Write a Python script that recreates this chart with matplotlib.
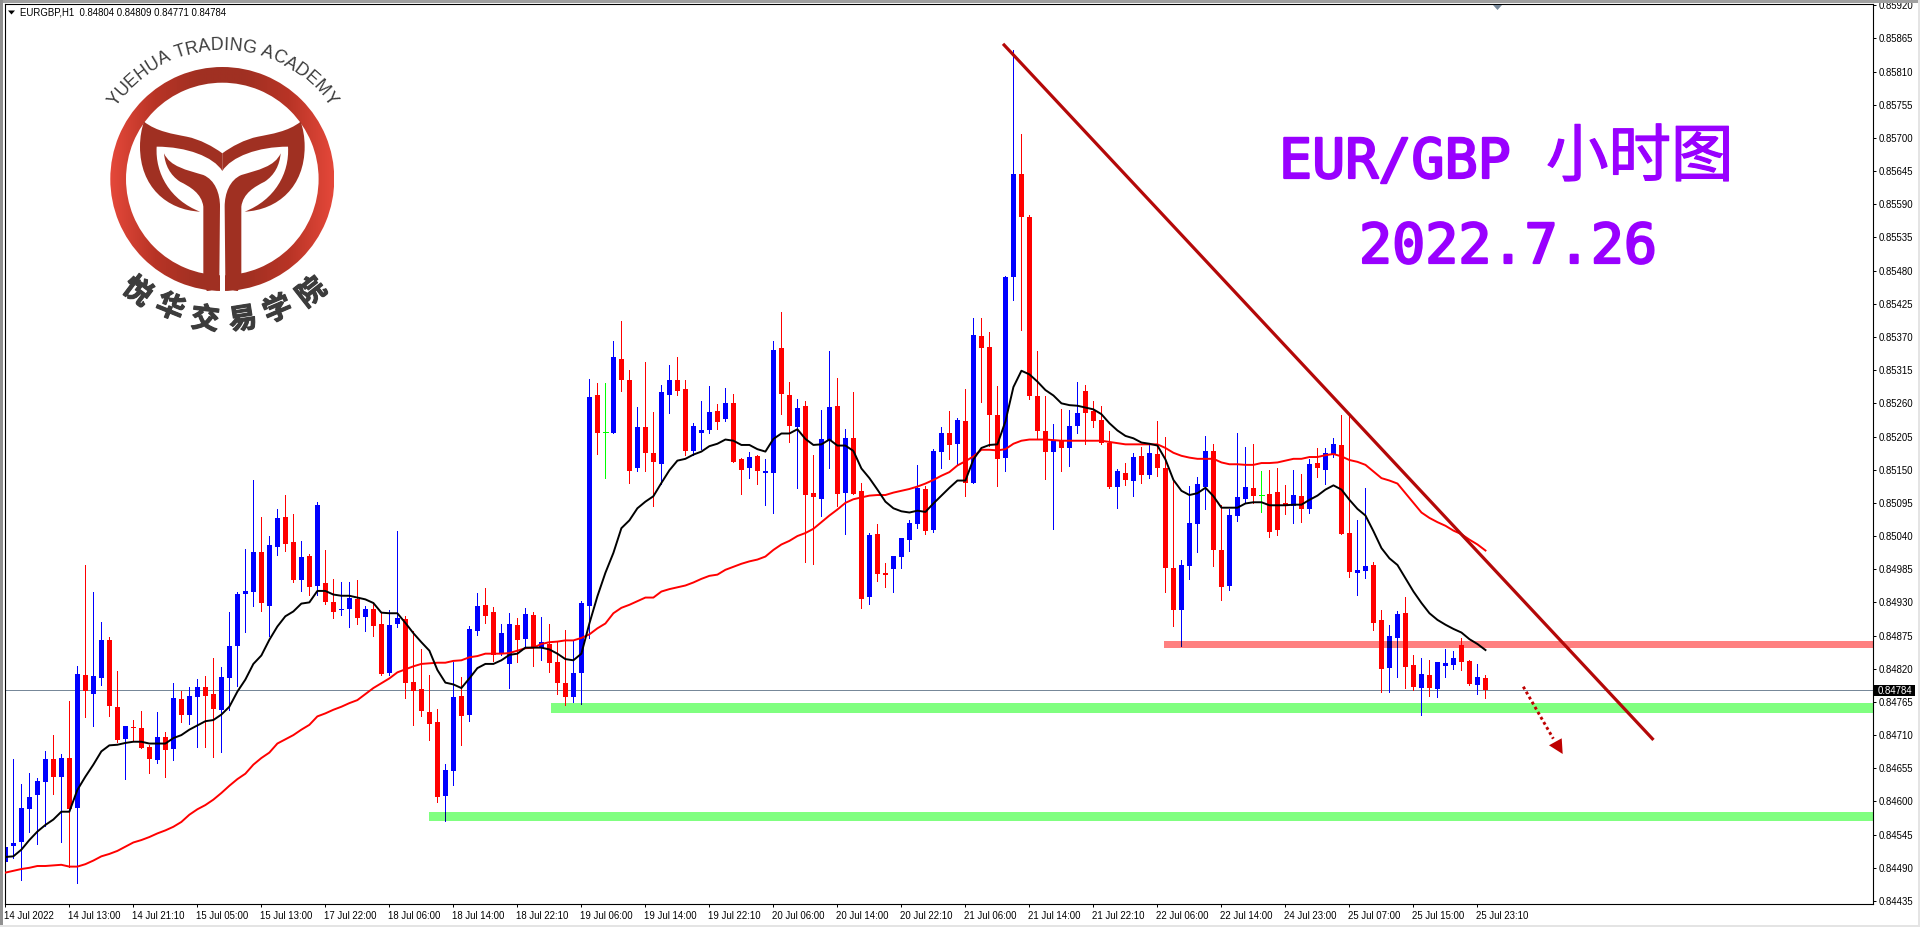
import numpy as np
import matplotlib
matplotlib.use("Agg")
import matplotlib.pyplot as plt
import matplotlib.patheffects as pe
from matplotlib.colors import LinearSegmentedColormap
from matplotlib.patches import PathPatch, Polygon, Rectangle, Wedge
from matplotlib.path import Path
from matplotlib.transforms import ScaledTranslation

# prices in points (1e-5)
OPEN = [
    84500, 84526, 84532, 84587, 84611, 84632, 84671, 84641, 84672, 84589,
    84810, 84778, 84805, 84868, 84757, 84704, 84724, 84722, 84691, 84669,
    84707, 84687, 84770, 84744, 84773, 84790, 84778, 84752, 84805, 84858,
    84944, 84948, 85014, 84924, 85022, 85072, 85030, 84967, 85007, 84957,
    84962, 84931, 84918, 84919, 84936, 84906, 84919, 84894, 84813, 84894,
    84903, 84798, 84787, 84749, 84732, 84609, 84651, 84775, 84744, 84883,
    84926, 84914, 84845, 84828, 84892, 84869, 84909, 84854, 84861, 84832,
    84796, 84773, 84813, 84924, 85273, 85212, 85211, 85334, 85299, 85153,
    85221, 85178, 85160, 85274, 85299, 85284, 85181, 85210, 85215, 85248,
    85234, 85261, 85168, 85152, 85173, 85145, 85145, 85352, 85274, 85221,
    85256, 85112, 85102, 85198, 85256, 85112, 85203, 85115, 84939, 85044,
    84979, 84986, 85006, 85034, 85060, 85118, 85050, 85180, 85210, 85193,
    85230, 85128, 85372, 85354, 85241, 85169, 85469, 85641, 85569, 85272,
    85214, 85180, 85199, 85186, 85222, 85280, 85248, 85233, 85194, 85122,
    85145, 85131, 85173, 85142, 85176, 85153, 84987, 84918, 84991, 85060,
    85122, 85181, 85017, 84958, 85074, 85102, 85120, 85108, 85110, 85113,
    85095, 85090, 85107, 85085, 85161, 85150, 85176, 85191, 85045, 84979,
    84982, 84992, 84900, 84822, 84871, 84913, 84827, 84788, 84810, 84787,
    84825, 84827, 84860, 84833, 84793, 84804,
]
HIGH = [
    84563, 84671, 84629, 84647, 84639, 84684, 84710, 84679, 84767, 84825,
    84992, 84948, 84898, 84873, 84817, 84725, 84735, 84750, 84694, 84749,
    84715, 84797, 84783, 84790, 84803, 84808, 84838, 84823, 84914, 84948,
    85019, 85133, 85072, 85040, 85085, 85108, 85077, 85032, 85011, 85097,
    85017, 84969, 84964, 84964, 84967, 84924, 84929, 84914, 84918, 85049,
    84908, 84883, 84853, 84810, 84754, 84662, 84831, 84807, 84891, 84946,
    84954, 84922, 84894, 84912, 84904, 84920, 84914, 84905, 84894, 84864,
    84884, 84867, 84932, 85301, 85293, 85294, 85364, 85397, 85316, 85254,
    85329, 85246, 85291, 85324, 85337, 85298, 85228, 85264, 85288, 85259,
    85286, 85276, 85170, 85180, 85175, 85168, 85364, 85412, 85296, 85268,
    85264, 85175, 85249, 85347, 85302, 85218, 85278, 85128, 85045, 85060,
    84996, 85007, 85037, 85067, 85157, 85123, 85185, 85220, 85248, 85236,
    85284, 85402, 85402, 85379, 85288, 85471, 85846, 85707, 85572, 85347,
    85272, 85226, 85251, 85249, 85296, 85291, 85264, 85256, 85214, 85151,
    85161, 85177, 85188, 85195, 85230, 85205, 85133, 85001, 85123, 85138,
    85206, 85193, 85092, 85085, 85210, 85188, 85193, 85148, 85150, 85153,
    85125, 85150, 85143, 85168, 85186, 85186, 85203, 85241, 85241, 85067,
    85120, 84997, 84918, 84893, 84916, 84939, 84843, 84838, 84835, 84832,
    84853, 84850, 84871, 84835, 84828, 84809,
]
LOW = [
    84472, 84506, 84470, 84549, 84530, 84560, 84613, 84533, 84492, 84465,
    84740, 84725, 84793, 84742, 84699, 84637, 84702, 84689, 84647, 84664,
    84641, 84669, 84732, 84729, 84691, 84691, 84674, 84682, 84752, 84792,
    84881, 84924, 84916, 84875, 85009, 85015, 84964, 84949, 84943, 84943,
    84928, 84904, 84909, 84889, 84894, 84883, 84875, 84810, 84810, 84889,
    84772, 84727, 84742, 84702, 84599, 84568, 84627, 84694, 84734, 84876,
    84896, 84833, 84843, 84788, 84831, 84854, 84824, 84834, 84814, 84778,
    84760, 84765, 84761, 84871, 85176, 85137, 85211, 85281, 85128, 85148,
    85148, 85090, 85127, 85244, 85274, 85175, 85175, 85185, 85211, 85218,
    85231, 85162, 85110, 85137, 85127, 85092, 85079, 85243, 85196, 85120,
    84997, 84994, 85074, 85153, 85090, 85044, 85110, 84921, 84928, 84966,
    84956, 84948, 84987, 85016, 85054, 85044, 85047, 85152, 85168, 85157,
    85107, 85128, 85263, 85190, 85123, 85148, 85431, 85381, 85268, 85203,
    85135, 85052, 85147, 85156, 85210, 85192, 85220, 85192, 85120, 85087,
    85124, 85107, 85128, 85137, 85139, 84948, 84891, 84858, 84969, 85014,
    85085, 84991, 84934, 84951, 85065, 85094, 85094, 85080, 85039, 85042,
    85077, 85062, 85064, 85079, 85138, 85127, 85171, 85044, 84972, 84943,
    84971, 84885, 84782, 84782, 84807, 84788, 84784, 84744, 84775, 84773,
    84807, 84820, 84818, 84793, 84778, 84771,
]
CLOSE = [
    84525, 84531, 84589, 84608, 84634, 84671, 84641, 84672, 84588, 84812,
    84783, 84808, 84868, 84759, 84702, 84725, 84721, 84689, 84671, 84707,
    84686, 84772, 84744, 84775, 84790, 84775, 84754, 84807, 84858, 84944,
    84949, 85014, 84929, 85025, 85070, 85027, 84967, 85006, 84956, 85092,
    84931, 84914, 84919, 84938, 84904, 84919, 84891, 84812, 84893, 84904,
    84797, 84783, 84750, 84729, 84608, 84652, 84773, 84742, 84886, 84924,
    84908, 84843, 84879, 84894, 84867, 84910, 84854, 84864, 84829, 84796,
    84773, 84813, 84929, 85271, 85210, 85212, 85336, 85299, 85148, 85221,
    85178, 85162, 85278, 85299, 85281, 85181, 85223, 85215, 85246, 85229,
    85261, 85163, 85150, 85171, 85147, 85148, 85349, 85276, 85223, 85253,
    85108, 85105, 85201, 85254, 85110, 85203, 85110, 84936, 85042, 84977,
    84976, 85007, 85036, 85062, 85120, 85049, 85181, 85211, 85191, 85233,
    85128, 85374, 85352, 85241, 85168, 85469, 85641, 85569, 85272, 85214,
    85180, 85199, 85186, 85222, 85244, 85244, 85230, 85194, 85122, 85147,
    85133, 85171, 85142, 85178, 85153, 84987, 84918, 84992, 85062, 85127,
    85181, 85017, 84956, 85075, 85104, 85122, 85107, 85108, 85047, 85050,
    85090, 85108, 85084, 85160, 85152, 85178, 85193, 85044, 84981, 84984,
    84991, 84896, 84820, 84875, 84911, 84823, 84790, 84812, 84788, 84832,
    84830, 84837, 84832, 84795, 84807, 84784,
]
MA_BLACK = [
    84508, 84509, 84520, 84536, 84550, 84561, 84570, 84583, 84583, 84619,
    84641, 84661, 84683, 84693, 84694, 84697, 84699, 84699, 84696, 84696,
    84696, 84705, 84710, 84719, 84726, 84733, 84735, 84744, 84757, 84782,
    84802, 84828, 84842, 84868, 84890, 84907, 84915, 84928, 84930, 84949,
    84949, 84943, 84941, 84941, 84938, 84935, 84929, 84913, 84912, 84912,
    84896, 84879, 84864, 84850, 84818, 84797, 84794, 84788, 84804, 84821,
    84828, 84828, 84834, 84843, 84845, 84855, 84855, 84855, 84852, 84845,
    84836, 84834, 84845, 84895, 84940, 84979, 85012, 85053, 85066, 85086,
    85097, 85106, 85128, 85149, 85165, 85168, 85175, 85180, 85189, 85193,
    85200, 85198, 85191, 85191, 85184, 85180, 85201, 85210, 85210, 85217,
    85201, 85191, 85192, 85200, 85190, 85190, 85181, 85152, 85136, 85117,
    85097, 85086, 85081, 85079, 85082, 85080, 85094, 85107, 85120, 85132,
    85132, 85167, 85186, 85191, 85192, 85230, 85287, 85314, 85308, 85296,
    85282, 85273, 85260, 85257, 85256, 85253, 85250, 85242, 85227, 85215,
    85206, 85202, 85195, 85193, 85190, 85167, 85133, 85115, 85108, 85111,
    85120, 85106, 85087, 85087, 85087, 85094, 85096, 85096, 85091, 85091,
    85091, 85092, 85092, 85100, 85107, 85117, 85124, 85117, 85100, 85085,
    85074, 85048, 85020, 85003, 84992, 84970, 84948, 84929, 84912, 84901,
    84893, 84886, 84880, 84869, 84861, 84851,
]
MA_RED = [
    84482, 84485, 84488, 84490, 84493, 84493, 84494, 84495, 84492, 84492,
    84496, 84502, 84509, 84513, 84518, 84525, 84532, 84536, 84541, 84547,
    84552, 84558, 84566, 84578, 84587, 84594, 84603, 84614, 84626, 84637,
    84646, 84661, 84672, 84681, 84696, 84703, 84710, 84719, 84727, 84741,
    84746, 84752, 84757, 84763, 84768, 84778, 84788, 84796, 84804, 84814,
    84819, 84824, 84828, 84829, 84830, 84830, 84833, 84834, 84839, 84841,
    84845, 84845, 84845, 84846, 84850, 84854, 84855, 84861, 84864, 84865,
    84867, 84867, 84871, 84877, 84887, 84895, 84912, 84921, 84926, 84932,
    84938, 84938, 84948, 84952, 84955, 84958, 84963, 84969, 84974, 84976,
    84984, 84989, 84994, 84998, 85001, 85006, 85017, 85026, 85032, 85040,
    85045, 85052, 85063, 85074, 85084, 85095, 85101, 85104, 85107, 85108,
    85108, 85112, 85115, 85118, 85122, 85127, 85133, 85140, 85146, 85157,
    85164, 85172, 85183, 85183, 85182, 85184, 85193, 85198, 85200, 85200,
    85200, 85199, 85198, 85198, 85198, 85198, 85198, 85198, 85196, 85194,
    85192, 85192, 85192, 85192, 85192, 85186, 85178, 85173, 85170, 85168,
    85168, 85168, 85162, 85159, 85159, 85158, 85158, 85161, 85161, 85162,
    85165, 85168, 85168, 85171, 85171, 85174, 85176, 85172, 85166, 85163,
    85158, 85147, 85136, 85132, 85127, 85111, 85095, 85079, 85070, 85063,
    85057, 85049, 85043, 85034, 85026, 85016,
]

TIME_LABELS = [
    "14 Jul 2022", "14 Jul 13:00", "14 Jul 21:10", "15 Jul 05:00",
    "15 Jul 13:00", "17 Jul 22:00", "18 Jul 06:00", "18 Jul 14:00",
    "18 Jul 22:10", "19 Jul 06:00", "19 Jul 14:00", "19 Jul 22:10",
    "20 Jul 06:00", "20 Jul 14:00", "20 Jul 22:10", "21 Jul 06:00",
    "21 Jul 14:00", "21 Jul 22:10", "22 Jul 06:00", "22 Jul 14:00",
    "24 Jul 23:00", "25 Jul 07:00", "25 Jul 15:00", "25 Jul 23:10",
]
LAST_PRICE = 84784

# zones: start bar, low, high, colour
ZONE_STARTS = [52.96, 68.2, 144.8]
ZONE_LOWS = [84568, 84747, 84854]
ZONE_HIGHS = [84583, 84763, 84866]
ZONE_COLORS = ["#80FF80", "#80FF80", "#FF8080"]

TREND_BARS = [124.7, 206.0]
TREND_PRICES = [85856, 84702]

BLUE = "#0000FF"
RED = "#FF0000"
LIME = "#00FF00"
PURPLE = "#9900FF"
LOGO_RED = "#A03022"
LOGO_GRAY = "#3C3C3C"
ARROW_RED = "#BE0000"
SLATE = "#778899"

ACADEMY_WIDTHS = {
    "Y": 0.667, "U": 0.722, "E": 0.667, "H": 0.722, "A": 0.667, " ": 0.278,
    "T": 0.611, "R": 0.722, "D": 0.722, "I": 0.278, "N": 0.722, "G": 0.778,
    "C": 0.722, "M": 0.833,
}
CN_CHARS = ["悦", "华", "交", "易", "学", "院"]
CN_X = [137, 170, 205, 243, 278, 312]
CN_Y = [292, 308, 320, 320, 310, 293]
CN_ANGLES = [-37, -22, -7, 9, 23, 38]


def draw_candles(ax, x, o, h, l, c):
    up = c > o
    down = c < o
    flat = c == o
    for mask, color in ((up, BLUE), (down, RED)):
        ax.vlines(x[mask], l[mask], h[mask], color=color, linewidth=0.72,
                  antialiased=False, zorder=2)
        ax.bar(x[mask], (c - o)[mask], bottom=o[mask], width=5 / 8, color=color,
               linewidth=0, antialiased=False, zorder=2)
    ax.vlines(x[flat], l[flat], h[flat], color=LIME, linewidth=0.72,
              antialiased=False, zorder=2)
    ax.hlines(c[flat], x[flat] - 0.31, x[flat] + 0.31, color=LIME, linewidth=0.72,
              antialiased=False, zorder=2)

    # the zones darken blue candles they lie over
    for start, low, high in zip(ZONE_STARTS, ZONE_LOWS, ZONE_HIGHS):
        clip = Rectangle((start, low / 1e5), 100, (high - low) / 1e5,
                         transform=ax.transData)
        wicks = ax.vlines(x[up], l[up], h[up], color="#000080", linewidth=0.72,
                          antialiased=False, zorder=2.1)
        wicks.set_clip_path(clip)
        bodies = ax.bar(x[up], (c - o)[up], bottom=o[up], width=5 / 8,
                        color="#000080", linewidth=0, antialiased=False, zorder=2.1)
        for body in bodies:
            body.set_clip_path(clip)


def draw_logo(ov):
    # zoomed reference coordinates, 3x
    def path(points, codes):
        return Path(np.array(points) / 3, codes)

    m, c4, ln, cl = Path.MOVETO, Path.CURVE4, Path.LINETO, Path.CLOSEPOLY
    fluke = [(432, 365), (470, 395), (520, 402), (560, 410), (600, 418), (640, 440),
             (667, 460), (667, 513), (640, 470), (560, 440), (470, 440), (465, 520),
             (510, 600), (600, 635), (500, 630), (420, 560), (420, 440), (420, 410),
             (425, 385), (432, 365), (432, 365)]
    fluke_codes = [m, c4, c4, c4, c4, c4, c4, ln, c4, c4, c4, c4, c4, c4, c4, c4, c4,
                   c4, c4, c4, cl]
    leaf = [(492, 460), (510, 500), (560, 510), (610, 525), (645, 540), (660, 580),
            (660, 620), (658, 840), (655, 860), (640, 873), (620, 873), (610, 822),
            (610, 620), (605, 580), (570, 560), (540, 545), (510, 525), (495, 495),
            (492, 460), (492, 460)]
    leaf_codes = [m, c4, c4, c4, c4, c4, c4, ln, c4, c4, c4, ln, ln, c4, c4, c4, c4,
                  c4, c4, cl]

    cx, cy = 222.3, 179.0
    ring = Wedge((cx, cy), 112, 0, 360, width=15.7, facecolor="none", edgecolor="none",
                 transform=ov.transData)
    ov.add_patch(ring)
    cmap = LinearSegmentedColormap.from_list(
        "ring", ["#E5483A", "#B83426", "#A03022", "#A03022", "#B83426", "#E5483A"]
    )
    image = ov.imshow(np.linspace(0, 1, 256).reshape(1, -1), cmap=cmap, aspect="auto",
                      extent=(cx - 112, cx + 112, cy + 112, cy - 112), zorder=3)
    image.set_clip_path(ring)
    ov.add_patch(Rectangle((220, 200), 4.8, 95, facecolor="white", edgecolor="none",
                           zorder=3.1))

    for points, codes in ((fluke, fluke_codes), (leaf, leaf_codes)):
        ov.add_patch(PathPatch(path(points, codes), facecolor=LOGO_RED,
                               edgecolor="none", zorder=3.2))
        mirrored = [(1334 - px, py) for px, py in points]
        ov.add_patch(PathPatch(path(mirrored, codes), facecolor=LOGO_RED,
                               edgecolor="none", zorder=3.2))

    academy = "YUEHUA TRADING ACADEMY"
    em = 17.8
    radius = 129
    total = sum(ACADEMY_WIDTHS[ch] for ch in academy) * em
    pos = -total / 2
    for ch in academy:
        width = ACADEMY_WIDTHS[ch] * em
        angle = (pos + width / 2) / radius
        ov.text(cx + radius * np.sin(angle), cy - radius * np.cos(angle), ch,
                rotation=-np.degrees(angle), rotation_mode="anchor", ha="center",
                va="baseline", fontsize=12.8, color=LOGO_GRAY,
                family="Liberation Sans", zorder=4)
        pos += width

    for ch, x, y, angle in zip(CN_CHARS, CN_X, CN_Y, CN_ANGLES):
        label = ov.text(x, y, ch, rotation=angle, rotation_mode="anchor", ha="center",
                        va="center", fontsize=20.5, fontweight="bold", color=LOGO_GRAY,
                        family=["Noto Sans CJK SC", "DejaVu Sans"], zorder=4)
        label.set_path_effects([pe.withStroke(linewidth=0.8, foreground=LOGO_GRAY)])


def draw_overlay(fig):
    ov = fig.add_axes([0, 0, 1, 1], facecolor="none")
    ov.set_axis_off()

    # window edges
    ov.add_patch(Rectangle((0, 0), 1920, 2.5, facecolor="#A0A0A0", edgecolor="none"))
    ov.add_patch(Rectangle((0, 0), 2.5, 927, facecolor="#909090", edgecolor="none"))
    ov.add_patch(Rectangle((1917.5, 0), 2.5, 927, facecolor="#E4E4E4", edgecolor="none"))
    ov.add_patch(Rectangle((0, 924.5), 1920, 2.5, facecolor="#E4E4E4", edgecolor="none"))

    ov.add_patch(Polygon([(1493, 5), (1502, 5), (1497.5, 10)], facecolor=SLATE,
                         edgecolor="none"))

    ov.add_patch(Polygon([(8, 10.5), (15, 10.5), (11.5, 14.5)], facecolor="black",
                         edgecolor="none"))
    ov.text(20, 12.5, "EURGBP,H1  0.84804 0.84809 0.84771 0.84784", fontsize=6.9,
            family="Liberation Sans", va="center", ha="left", color="black")

    heavy = [pe.withStroke(linewidth=1.6, foreground=PURPLE)]
    title = ov.text(1279, 178, "EUR/GBP", fontsize=39.6, family="DejaVu Sans Mono",
                    color=PURPLE, va="baseline", ha="left")
    title.set_path_effects(heavy)
    zh = ov.text(1546, 176, "小时图", fontsize=45,
                 family=["Noto Sans CJK SC", "DejaVu Sans"], color=PURPLE,
                 va="baseline", ha="left")
    zh.set_path_effects([pe.withStroke(linewidth=0.9, foreground=PURPLE)])
    date = ov.text(1359, 263, "2022.7.26", fontsize=39.6, family="DejaVu Sans Mono",
                   color=PURPLE, va="baseline", ha="left")
    date.set_path_effects(heavy)

    # price tag
    ov.add_patch(Rectangle((1874, 685), 41, 11, facecolor="black", edgecolor="none"))
    ov.text(1878, 690.5, f"{LAST_PRICE / 1e5:.5f}", fontsize=6.9, color="white",
            family="Liberation Sans", va="center", ha="left")

    # forecast arrow
    ov.plot([1523.3, 1553.3], [686.7, 738.7], color=ARROW_RED, linewidth=2.1,
            linestyle=(0, (1, 1)), dash_capstyle="butt")
    ov.add_patch(Polygon([(1561.7, 738.3), (1562.7, 754), (1549, 745.3)],
                         facecolor=ARROW_RED, edgecolor="none"))

    draw_logo(ov)

    ov.set_xlim(0, 1920)
    ov.set_ylim(927, 0)


def main():
    o, h, l, c = [np.array(v) / 1e5 for v in (OPEN, HIGH, LOW, CLOSE)]
    x = np.arange(len(o))

    fig = plt.figure(figsize=(19.2, 9.27), dpi=100, facecolor="white")
    ax = fig.add_axes([4.5 / 1920, 23 / 927, 1868.2 / 1920, 900 / 927])
    ax.set_xlim(-0.104, 233.4)
    ax.set_ylim(0.84430, 0.85922)

    ax.axhline(LAST_PRICE / 1e5, color=SLATE, linewidth=0.72, zorder=1.5)
    for start, low, high, color in zip(ZONE_STARTS, ZONE_LOWS, ZONE_HIGHS, ZONE_COLORS):
        ax.fill_between([start, 233.4], low / 1e5, high / 1e5, color=color, linewidth=0,
                        zorder=1)

    draw_candles(ax, x, o, h, l, c)

    ax.plot(x, np.array(MA_RED) / 1e5, color=RED, linewidth=1.4, zorder=3)
    ax.plot(x, np.array(MA_BLACK) / 1e5, color="black", linewidth=1.4, zorder=3.1)
    ax.plot(TREND_BARS, np.array(TREND_PRICES) / 1e5, color="#B40808", linewidth=2.3,
            zorder=4, solid_capstyle="butt")

    ytick_points = list(range(84435, 85921, 55))
    ax.yaxis.tick_right()
    ax.set_yticks([p / 1e5 for p in ytick_points], [f"{p / 1e5:.5f}" for p in ytick_points])
    ax.set_xticks(np.arange(len(TIME_LABELS)) * 8, TIME_LABELS)
    ax.tick_params(axis="y", length=2, width=0.72, pad=2.5, labelsize=6.9)
    ax.tick_params(axis="x", length=2.5, width=0.72, pad=2.5, labelsize=6.9)
    for label in ax.get_xticklabels():
        label.set_horizontalalignment("left")
        label.set_transform(label.get_transform() + ScaledTranslation(-1 / 100, 0, fig.dpi_scale_trans))
    for label in ax.get_xticklabels() + ax.get_yticklabels():
        label.set_family("Liberation Sans")
    for spine in ax.spines.values():
        spine.set_linewidth(0.8)

    draw_overlay(fig)

    fig.savefig("out.png", dpi=100, facecolor="white")
    plt.close(fig)


if __name__ == "__main__":
    main()
